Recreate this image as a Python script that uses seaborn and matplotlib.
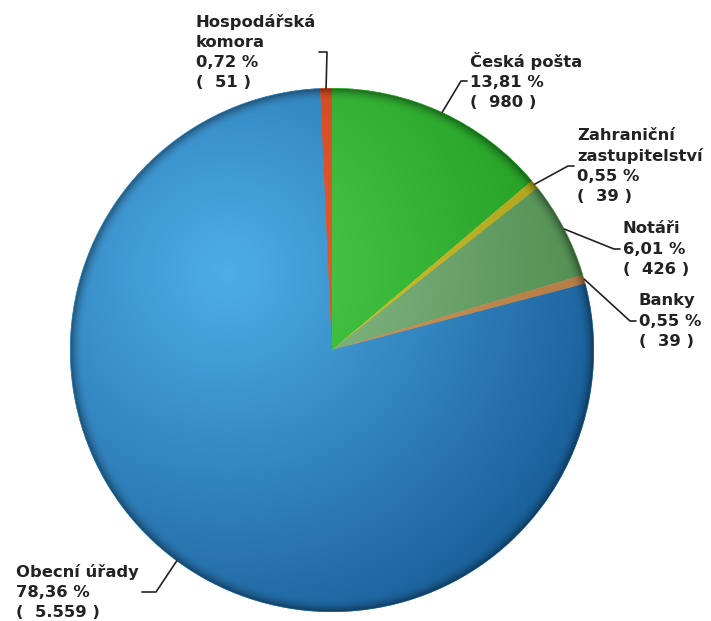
import numpy as np
import matplotlib
matplotlib.use("Agg")
import matplotlib.pyplot as plt
from matplotlib.colors import to_rgb
import seaborn as sns

sns.set_theme(style="white")
plt.rcParams['font.family'] = ['DejaVu Sans']

# data (clockwise from 12 o'clock)
kategorie = ["Česká pošta", "Zahraniční\nzastupitelství", "Notáři", "Banky",
             "Obecní úřady", "Hospodářská\nkomora"]
pocty = [980, 39, 426, 39, 5559, 51]
barvy = ["#2ea82e", "#c2b422", "#5f9c5f", "#c48a52", "#2472b2", "#cf4a22"]

# shading: light colour near highlight, dark colour far away
svetle = ["#4fd04f", "#dcd034", "#93c393", "#d8a066", "#4eaee8", "#ee6234"]
tmave = ["#1c961c", "#a69a18", "#4a884a", "#b07840", "#185d98", "#bc3814"]

# layout: elbow point of each leader line (pixels, y from top)
lokty = [(461, 81), (568, 166), (614, 249), (630, 321), (156, 592), (327, 52)]
konce = [(467, 81), (574, 166), (620, 249), (636, 321), (142, 592), (319, 52)]

W, H = 711, 621
fig = plt.figure(figsize=(W / 100, H / 100), dpi=100)
ax = fig.add_axes([0, 0, 1, 1])

cx, cy, R = 332, H - 350, 262
wedges, _ = ax.pie(pocty, colors=barvy, startangle=90, counterclock=False,
                   center=(cx, cy), radius=R, frame=True,
                   wedgeprops=dict(linewidth=0))
ax.set_xlim(0, W)
ax.set_ylim(0, H)
ax.axis("off")

n = 800
xs = np.linspace(cx - R, cx + R, n)
ys = np.linspace(cy - R, cy + R, n)
X, Y = np.meshgrid(xs, ys)
r = np.hypot(X - cx, Y - cy) / R
hx, hy = cx - 0.4 * R, cy + 0.3 * R
t = np.clip(np.hypot(X - hx, Y - hy) / (1.55 * R), 0, 1)[..., None]
ext = (cx - R, cx + R, cy - R, cy + R)

for w, c1, c2 in zip(wedges, svetle, tmave):
    a, b = np.array(to_rgb(c1)), np.array(to_rgb(c2))
    img = a * (1 - t) + b * t
    im = ax.imshow(img, extent=ext, origin="lower", zorder=2,
                   interpolation="bilinear")
    im.set_clip_path(w)

# softer darker rim
rim = np.zeros((n, n, 4))
rim[..., 3] = 0.42 * np.clip((r - 0.95) / 0.05, 0, 1) ** 2
rim[r > 1.0] = 0
im = ax.imshow(rim, extent=ext, origin="lower", zorder=3,
               interpolation="bilinear")
im.set_clip_path(plt.Circle((cx, cy), R - 0.5, transform=ax.transData))

celkem = sum(pocty)
for w, name, cnt, lok, kon in zip(wedges, kategorie, pocty, lokty, konce):
    ang = np.deg2rad((w.theta1 + w.theta2) / 2)
    px, py = cx + R * np.cos(ang), cy + R * np.sin(ang)
    ex, ey = lok[0], H - lok[1]
    kx, ky = kon[0], H - kon[1]
    ax.plot([px, ex, kx], [py, ey, ky], color="#222222", lw=1.2, zorder=4)
    pct = f"{100 * cnt / celkem:.2f}".replace(".", ",")
    cnt_s = f"{cnt:,}".replace(",", ".")
    txt = f"{name}\n{pct} %\n(  {cnt_s} )"
    right = kx > ex
    ax.text(kx + (3 if right else -3), ky, txt, ha="left" if right else "right",
            va="center", multialignment="left", fontsize=11.8, fontweight="bold",
            color="#222222", linespacing=1.42, zorder=5)

fig.savefig("out.png", dpi=100)
